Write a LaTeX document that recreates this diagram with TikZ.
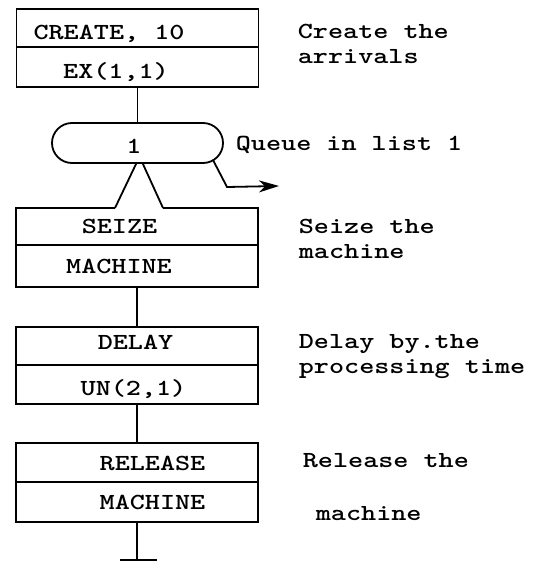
\documentclass[tikz,border=0pt]{standalone}
\usetikzlibrary{arrows.meta,calc,shapes.misc}
\newcommand{\tw}[1]{\scalebox{1.25}[1]{#1}}
\begin{document}
\begin{tikzpicture}[x=1pt,y=-1pt,line width=1.8pt,
  rowbox/.style={draw,minimum width=242pt,inner sep=0pt,outer sep=0pt},
  code/.style={font=\fontsize{23}{25}\selectfont\ttfamily\bfseries,inner sep=0pt,anchor=base},
  note/.style={font=\fontsize{23}{25}\selectfont\ttfamily\bfseries,inner sep=0pt,anchor=base west},
  queuebox/.style={draw,rounded rectangle,minimum width=171pt,minimum height=40pt,inner sep=0pt,outer sep=0pt}]
\useasboundingbox (0,0) rectangle (534,562);
% CREATE block
\node[rowbox,minimum height=38pt] (create) at (137.5,28) {};
\node[rowbox,minimum height=40pt] (ex) at (137.5,67) {};
\node[code] (tcreate) at (109,39) {\tw{CREATE, 10}};
\node[code] (tex) at (116,78) {\tw{EX(1,1)}};
% QUEUE
\node[queuebox] (queue) at (137.5,143) {};
\node[code] (tq) at (134,153) {\tw{1}};
% SEIZE block
\node[minimum width=242pt,minimum height=37pt,inner sep=0pt,outer sep=0pt] (seize) at (137,226.5) {};
\node[rowbox,minimum height=42pt] (mach1) at (137,266) {};
\node[code] (tseize) at (119.5,233) {\tw{SEIZE}};
\node[code] (tmach1) at (119,273) {\tw{MACHINE}};
\coordinate (legL) at ([xshift=-22pt]seize.north);
\coordinate (legR) at ([xshift=26pt]seize.north);
\draw (legL) -- (seize.north west) -- (seize.south west);
\draw (legR) -- (seize.north east) -- (seize.south east);
\draw ([xshift=-1pt]queue.south) -- (legL);
\draw ([xshift=5pt]queue.south) -- (legR);
% DELAY block
\node[rowbox,minimum height=38pt] (delay) at (137,346) {};
\node[rowbox,minimum height=39pt] (un) at (137,384.5) {};
\node[code] (tdelay) at (135.5,349) {\tw{DELAY}};
\node[code] (tun) at (133.5,395) {\tw{UN(2,1)}};
% RELEASE block
\node[rowbox,minimum height=39pt] (release) at (137,462.5) {};
\node[rowbox,minimum height=40pt] (mach2) at (137,502) {};
\node[code] (trelease) at (152.5,470) {\tw{RELEASE}};
\node[code] (tmach2) at (152.5,509) {\tw{MACHINE}};
% connectors
\draw (ex.south) -- (queue.north);
\draw (mach1.south) -- (delay.north);
\draw (un.south) -- (release.north);
\coordinate (term) at (137,560);
\draw (mach2.south) -- (term);
\draw ([xshift=-17pt]term) -- ([xshift=20pt]term);
\coordinate (qstart) at (213,160);
\coordinate (qbend) at (227,187);
\coordinate (qout) at (279,186);
\draw[-{Stealth[length=20pt,width=12pt,inset=6pt]}] (qstart) -- (qbend) -- (qout);
% notes
\node[note] (n1a) at (297,38) {\tw{Create the}};
\node[note] (n1b) at (297,63) {\tw{arrivals}};
\node[note] (n2) at (235,150) {\tw{Queue in list 1}};
\node[note] (n3a) at (298,233) {\tw{Seize the}};
\node[note] (n3b) at (298,258) {\tw{machine}};
\node[note] (n4a) at (298,348) {\tw{Delay by.the}};
\node[note] (n4b) at (298,373) {\tw{processing time}};
\node[note] (n5a) at (302,467) {\tw{Release the}};
\node[note] (n5b) at (315,520) {\tw{machine}};
\end{tikzpicture}
\end{document}
